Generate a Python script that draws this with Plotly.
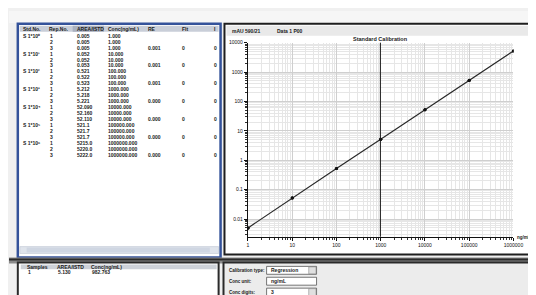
import plotly.graph_objects as go

# ---------------- data ----------------
std_labels = ["S 1*10⁰", "S 1*10¹", "S 1*10²", "S 1*10³", "S 1*10⁴", "S 1*10⁵", "S 1*10⁶"]
rep_no = [1, 2, 3, 1, 2, 3, 1, 2, 3, 1, 2, 3, 1, 2, 3, 1, 2, 3, 1, 2, 3]
conc = [1, 1, 1, 10, 10, 10, 100, 100, 100, 1000, 1000, 1000,
        10000, 10000, 10000, 100000, 100000, 100000, 1000000, 1000000, 1000000]
area = [0.005, 0.005, 0.005, 0.052, 0.052, 0.053, 0.521, 0.522, 0.523,
        5.212, 5.218, 5.221, 52.09, 52.16, 52.11, 521.1, 521.7, 521.7,
        5215.0, 5220.0, 5222.0]
group_re = ["0.001", "0.001", "0.001", "0.000", "0.000", "0.000", "0.000"]
group_flt = ["0", "0", "0", "0", "0", "0", "0"]
group_i = ["0", "0", "0", "0", "0", "0", "0"]
table_headers = ["Std.No.", "Rep.No.", "AREA/ISTD", "Conc(ng/mL)", "RE", "Flt", "I"]

sample_id = ["1"]
sample_area = [5.130]
sample_conc = [982.763]
sample_headers = ["Samples", "AREA/ISTD", "Conc(ng/mL)"]

x_ticks = [1, 10, 100, 1000, 10000, 100000, 1000000]
x_tick_labels = ["1", "10", "100", "1000", "10000", "100000", "1000000"]
y_ticks = [0.01, 0.1, 1, 10, 100, 1000, 10000]
y_tick_labels = ["0.01", "0.1", "1", "10", "100", "1000", "10000"]

chart_title = "Standard Calibration"
x_unit = "ng/mL"
header_texts = ["mAU 590/21", "Data 1 P00"]
settings_labels = ["Calibration type:", "Conc unit:", "Conc digits:"]
settings_values = ["Regression", "ng/mL", "3"]

# ---------------- layout helpers ----------------
W, H = 536, 295
def X(px):
    return px / W
def Y(py):
    return 1 - py / H

FONT = "Liberation Sans, Arial, sans-serif"
shapes = []
annotations = []

def rect(x0, y0, x1, y1, fill=None, line=None, lw=1, layer="below"):
    shapes.append(dict(type="rect", xref="paper", yref="paper",
                       x0=X(x0), x1=X(x1), y0=Y(y1), y1=Y(y0),
                       fillcolor=fill if fill else "rgba(0,0,0,0)",
                       line=dict(color=line if line else "rgba(0,0,0,0)", width=lw if line else 0),
                       layer=layer))

def text(px, py, s, size=5.5, color="#1a1a1a", anchor="left", bold=False):
    annotations.append(dict(xref="paper", yref="paper", x=X(px), y=Y(py),
                            text=("<b>%s</b>" % s) if bold else s, showarrow=False,
                            xanchor=anchor, yanchor="middle",
                            font=dict(family=FONT, size=size, color=color)))

# background strip at top
rect(0, 0, 536, 12, fill="#f6f6f6")

# ---- left top panel (table) ----
rect(9, 13, 216, 249, fill="#ffffff", line="#34529a", lw=2.5)
rect(11, 15, 214, 21, fill="#c9ced8")
rect(65, 15, 97, 21, fill="#aab1bf")
col_x = [12, 39, 67, 99, 140, 175, 207]
for cx, h in zip(col_x, table_headers):
    text(cx, 18, h, size=5, bold=True)
row0, dy = 25, 6.0
for i in range(len(conc)):
    ry = row0 + i * dy
    g = i // 3
    if i % 3 == 0:
        text(12, ry, std_labels[g], size=5, bold=True)
    text(40, ry, str(rep_no[i]), size=5, bold=True)
    text(67, ry, ("%.3f" % area[i]) if area[i] < 100 else ("%.1f" % area[i]), size=5, bold=True)
    text(99, ry, "%.3f" % conc[i], size=5, bold=True)
    if i % 3 == 2:
        text(140, ry, group_re[g], size=5, bold=True)
        text(175, ry, group_flt[g], size=5, bold=True)
        text(207, ry, group_i[g], size=5, bold=True)
# scrollbar
rect(11, 238, 214, 245, fill="#dfe4ec", line="#b8c0cc", lw=0.5)
rect(18, 239, 205, 244, fill="#cfd6e2")

# ---- right top panel (chart) ----
rect(220, 13, 538, 246, fill="#ffffff", line="#1e1e1e", lw=2)
rect(222, 15, 536, 25, fill="#e9e9e9")
text(226, 20, header_texts[0], size=5, bold=True)
text(272, 20, header_texts[1], size=5, bold=True)
text(379, 28, chart_title, size=5.5, anchor="center", bold=True)
text(517, 229, x_unit, size=4.5, bold=True)

# separator band
rect(0, 249, 536, 255, fill="#8a8a8a")
rect(0, 250, 536, 252, fill="#2a2a2a")

# ---- bottom left panel (samples) ----
rect(9, 254, 214, 296, fill="#ffffff", line="#2a2a2a", lw=2)
rect(12, 256, 212, 261, fill="#cdd1d8")
for cx, h in zip([16, 47, 82], sample_headers):
    text(cx, 258.5, h, size=5, bold=True)
text(17, 264, sample_id[0], size=5, bold=True)
text(48, 264, "%.3f" % sample_area[0], size=5, bold=True)
text(83, 264, "%.3f" % sample_conc[0], size=5, bold=True)

# ---- bottom right panel (settings) ----
rect(219, 254, 538, 296, fill="#ececec", line="#2a2a2a", lw=2)
for k, (lab, val) in enumerate(zip(settings_labels, settings_values)):
    yy = 262 + k * 11
    text(223, yy, lab, size=4.5, bold=True)
    rect(263, yy - 4, 314, yy + 4, fill="#ffffff", line="#555555", lw=0.8, layer="above")
    text(265, yy, val, size=5, bold=True)
    if k != 1:
        rect(306, yy - 3.5, 313.5, yy + 3.5, fill="#e0e0e0", line="#777777", lw=0.5, layer="above")

# sample concentration marker line
shapes.append(dict(type="line", xref="x", yref="y domain", x0=sample_conc[0], x1=sample_conc[0],
                   y0=0, y1=1, line=dict(color="#1a1a1a", width=1), layer="above"))

fig = go.Figure()
fig.add_trace(go.Scatter(x=conc, y=area, mode="lines+markers",
                         line=dict(color="#2a2a2a", width=1.2),
                         marker=dict(size=3, color="#111111"),
                         showlegend=False, hoverinfo="skip"))

axis_common = dict(type="log", showline=True, linecolor="#111111", linewidth=1.2,
                   ticks="outside", ticklen=3, tickcolor="#111111", tickwidth=1,
                   showgrid=True, gridcolor="#cfcfcf", gridwidth=1, zeroline=False,
                   tickfont=dict(family=FONT, size=5, color="#111111"), tickmode="array",
                   minor=dict(dtick="D1", showgrid=True, gridcolor="#e6e6e6", gridwidth=1,
                              ticks="outside", ticklen=2, tickcolor="#333333"))
fig.update_layout(
    width=W, height=H, margin=dict(l=0, r=0, t=0, b=0),
    paper_bgcolor="#f0f0f0", plot_bgcolor="#ffffff",
    xaxis=dict(axis_common, domain=[X(244), X(515)], range=[0, 6],
               tickvals=x_ticks, ticktext=x_tick_labels),
    yaxis=dict(axis_common, domain=[Y(228), Y(32)], range=[-2.6, 4.0],
               tickvals=y_ticks, ticktext=y_tick_labels),
    shapes=shapes, annotations=annotations, showlegend=False,
)
fig.write_html("out.html")
